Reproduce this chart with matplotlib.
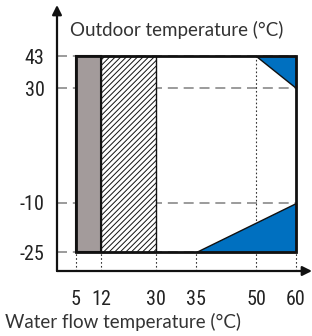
import numpy as np
import matplotlib
matplotlib.use('Agg')
import matplotlib.pyplot as plt
from matplotlib.patches import Rectangle, Polygon

# chart values
water_ticks = [5, 12, 30, 35, 50, 60]
outdoor_ticks = [-25, -10, 30, 43]

gray_band = (5, 12)
hatch_band = (12, 30)
outdoor_range = (-25, 43)
water_range = (5, 60)

top_triangle = [(50, 43), (60, 43), (60, 30)]
bottom_triangle = [(35, -25), (60, -25), (60, -10)]

# schematic (non-linear) axis layout, in pixels
x_anchor_vals = [0, 5, 12, 30, 35, 50, 60, 66]
x_anchor_px = [57, 76, 101, 156, 196, 256, 296, 312]
y_anchor_vals = [-32, -25, -10, 30, 43, 60]
y_anchor_px = [65, 84, 133, 248, 280, 331]

W, H = 312, 336
fig = plt.figure(figsize=(W / 100, H / 100), dpi=100)
ax = fig.add_axes([57 / W, 65 / H, (312 - 57) / W, (331 - 65) / H])


def fx(v):
    return np.interp(v, x_anchor_vals, x_anchor_px)


def fx_inv(p):
    return np.interp(p, x_anchor_px, x_anchor_vals)


def fy(v):
    return np.interp(v, y_anchor_vals, y_anchor_px)


def fy_inv(p):
    return np.interp(p, y_anchor_px, y_anchor_vals)


ax.set_xscale('function', functions=(fx, fx_inv))
ax.set_yscale('function', functions=(fy, fy_inv))
ax.set_xlim(x_anchor_vals[0], x_anchor_vals[-1])
ax.set_ylim(y_anchor_vals[0], y_anchor_vals[-1])

for s in ax.spines.values():
    s.set_visible(False)

# guide lines
for v in outdoor_ticks:
    ax.plot([x_anchor_vals[0], water_range[1]], [v, v], color='#8a8a8a',
            lw=1.2, ls=(0, (6, 3.5)), zorder=1)
for v in water_ticks:
    top = outdoor_range[1] if v == 50 else outdoor_range[0]
    ax.plot([v, v], [y_anchor_vals[0], top], color='#333333', lw=0.8,
            ls=(0, (1.5, 2)), zorder=1)

# regions
ax.add_patch(Rectangle((gray_band[0], outdoor_range[0]), gray_band[1] - gray_band[0],
                       outdoor_range[1] - outdoor_range[0], facecolor='#a39b9b',
                       edgecolor='#111111', lw=1.5, zorder=2))
plt.rcParams['hatch.linewidth'] = 0.7
ax.add_patch(Rectangle((hatch_band[0], outdoor_range[0]), hatch_band[1] - hatch_band[0],
                       outdoor_range[1] - outdoor_range[0], facecolor='white',
                       edgecolor='#111111', hatch='//////', lw=1.0, zorder=2))
ax.add_patch(Polygon(top_triangle, closed=True, facecolor='#0070c0',
                     edgecolor='#111111', lw=1.0, zorder=3))
ax.add_patch(Polygon(bottom_triangle, closed=True, facecolor='#0070c0',
                     edgecolor='#111111', lw=1.0, zorder=3))
ax.add_patch(Rectangle((water_range[0], outdoor_range[0]), water_range[1] - water_range[0],
                       outdoor_range[1] - outdoor_range[0], facecolor='none',
                       edgecolor='#111111', lw=2.0, zorder=4))

# axis arrows
ax.annotate('', xy=(1.0, 0), xytext=(0, 0), xycoords='axes fraction',
            arrowprops=dict(arrowstyle='-|>', color='#111111', lw=1.6,
                            mutation_scale=14, shrinkA=0, shrinkB=0))
ax.annotate('', xy=(0, 1.0), xytext=(0, 0), xycoords='axes fraction',
            arrowprops=dict(arrowstyle='-|>', color='#111111', lw=1.6,
                            mutation_scale=14, shrinkA=0, shrinkB=0))

tick_font = ['Liberation Sans Narrow', 'Roboto Condensed', 'Liberation Sans']
ax.set_xticks(water_ticks)
ax.set_xticklabels([str(v) for v in water_ticks], family=tick_font, fontsize=14.5,
                   color='#222222')
ax.set_yticks(outdoor_ticks)
ax.set_yticklabels([str(v) for v in outdoor_ticks], family=tick_font, fontsize=14.5,
                   color='#222222')
ax.tick_params(axis='x', length=0, pad=14)
ax.tick_params(axis='y', length=0, pad=9)
ax.minorticks_off()

label_font = ['Lato', 'DejaVu Sans']
fig.text(70 / W, 1 - 30 / H, 'Outdoor temperature (°C)', family=label_font,
         fontsize=13.5, color='#333333', va='center', ha='left')
fig.text(5 / W, 1 - 322 / H, 'Water flow temperature (°C)', family=label_font,
         fontsize=13.5, color='#333333', va='center', ha='left')

fig.savefig('out.png', dpi=100)
